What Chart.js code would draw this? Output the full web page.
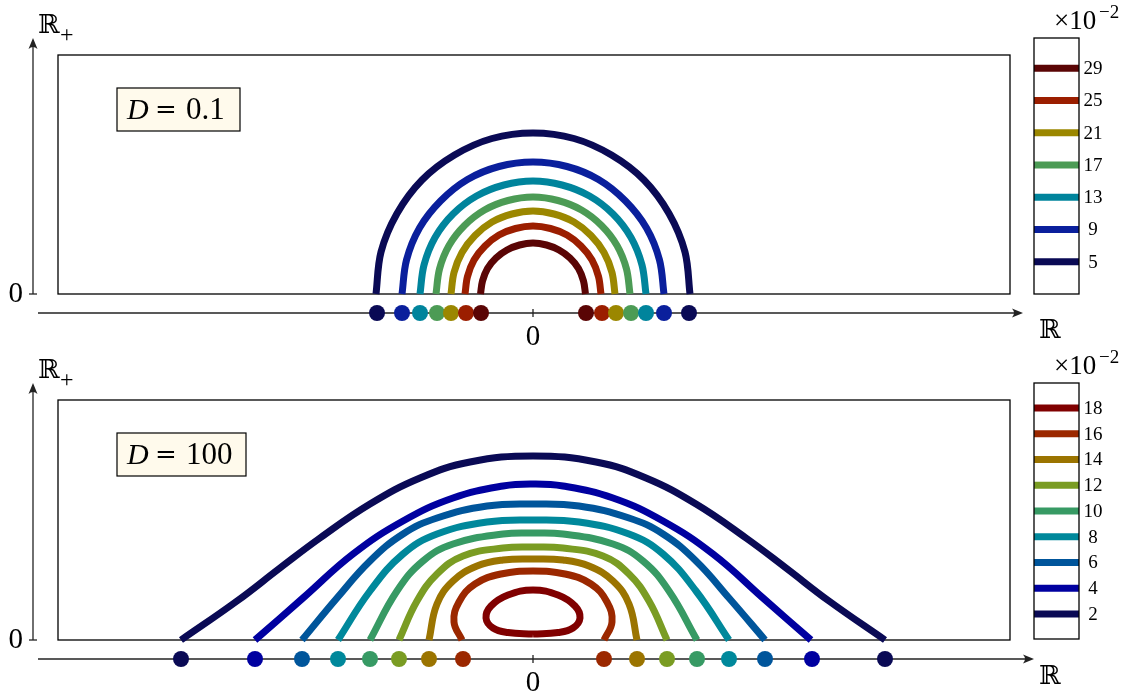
<!DOCTYPE html>
<html>
<head>
<meta charset="utf-8">
<script src="https://cdn.jsdelivr.net/npm/chart.js@4.4.1/dist/chart.umd.min.js"></script>
<style>
  body { margin: 0; background: #fff; }
  #wrap { position: relative; width: 1136px; height: 693px; }
  canvas { position: absolute; left: 0; top: 0; }
</style>
</head>
<body>
<div id="wrap">
  <canvas id="topMain" width="1136" height="693"></canvas>
  <canvas id="topBar" width="1136" height="693"></canvas>
  <canvas id="botMain" width="1136" height="693"></canvas>
  <canvas id="botBar" width="1136" height="693"></canvas>
</div>
<script>
// ---- D = 0.1 ----
const topLevels = [5, 9, 13, 17, 21, 25, 29];
const topColors = ['#0a0a55', '#0a1f9c', '#00849c', '#4c9b55', '#9b8700', '#9b1e00', '#5a0505'];
const topCurves = [
  [[-1.57, 0], [-1.52, 0.42], [-1.36, 0.805], [-1.11, 1.14], [-0.785, 1.39], [-0.41, 1.555], [0, 1.61], [0.41, 1.555], [0.785, 1.39], [1.11, 1.14], [1.36, 0.805], [1.52, 0.42], [1.57, 0]],
  [[-1.31, 0], [-1.265, 0.34], [-1.135, 0.66], [-0.925, 0.93], [-0.655, 1.145], [-0.34, 1.275], [0, 1.32], [0.34, 1.275], [0.655, 1.145], [0.925, 0.93], [1.135, 0.66], [1.265, 0.34], [1.31, 0]],
  [[-1.13, 0], [-1.09, 0.29], [-0.98, 0.565], [-0.80, 0.80], [-0.565, 0.98], [-0.29, 1.09], [0, 1.13], [0.29, 1.09], [0.565, 0.98], [0.80, 0.80], [0.98, 0.565], [1.09, 0.29], [1.13, 0]],
  [[-0.97, 0], [-0.935, 0.25], [-0.84, 0.485], [-0.685, 0.685], [-0.485, 0.84], [-0.25, 0.935], [0, 0.97], [0.25, 0.935], [0.485, 0.84], [0.685, 0.685], [0.84, 0.485], [0.935, 0.25], [0.97, 0]],
  [[-0.82, 0], [-0.79, 0.215], [-0.71, 0.415], [-0.58, 0.585], [-0.41, 0.72], [-0.21, 0.80], [0, 0.83], [0.21, 0.80], [0.41, 0.72], [0.58, 0.585], [0.71, 0.415], [0.79, 0.215], [0.82, 0]],
  [[-0.68, 0], [-0.655, 0.175], [-0.59, 0.34], [-0.48, 0.48], [-0.34, 0.59], [-0.175, 0.655], [0, 0.68], [0.175, 0.655], [0.34, 0.59], [0.48, 0.48], [0.59, 0.34], [0.655, 0.175], [0.68, 0]],
  [[-0.525, 0], [-0.505, 0.13], [-0.455, 0.255], [-0.37, 0.36], [-0.26, 0.44], [-0.135, 0.49], [0, 0.51], [0.135, 0.49], [0.26, 0.44], [0.37, 0.36], [0.455, 0.255], [0.505, 0.13], [0.525, 0]]
];
const topDotX = [-1.56, -1.31, -1.13, -0.96, -0.82, -0.67, -0.52, 0.53, 0.69, 0.83, 0.98, 1.13, 1.31, 1.56];
const topDotLevel = [5, 9, 13, 17, 21, 25, 29, 29, 25, 21, 17, 13, 9, 5];

// ---- D = 100 ----
const botLevels = [2, 4, 6, 8, 10, 12, 14, 16, 18];
const botColors = ['#0a0a55', '#0000a0', '#00559b', '#00889b', '#379a64', '#7a9c23', '#9b7400', '#9b2800', '#800000'];
const botCurves = [
  [[-3.52, 0], [-2.96, 0.39], [-2.53, 0.72], [-2.13, 1.02], [-1.63, 1.36], [-1.13, 1.62], [-0.63, 1.78], [0, 1.84], [0.63, 1.78], [1.13, 1.62], [1.63, 1.36], [2.13, 1.02], [2.53, 0.72], [2.96, 0.39], [3.52, 0]],
  [[-2.78, 0], [-2.30, 0.42], [-1.80, 0.86], [-1.30, 1.19], [-0.80, 1.42], [-0.30, 1.54], [0, 1.56], [0.30, 1.54], [0.80, 1.42], [1.30, 1.19], [1.80, 0.86], [2.30, 0.42], [2.78, 0]],
  [[-2.31, 0], [-1.96, 0.42], [-1.63, 0.79], [-1.30, 1.06], [-0.96, 1.22], [-0.46, 1.34], [0, 1.36], [0.46, 1.34], [0.96, 1.22], [1.30, 1.06], [1.63, 0.79], [1.96, 0.42], [2.32, 0]],
  [[-1.95, 0], [-1.63, 0.49], [-1.30, 0.86], [-0.96, 1.06], [-0.46, 1.18], [0, 1.20], [0.46, 1.18], [0.96, 1.06], [1.30, 0.86], [1.63, 0.49], [1.96, 0]],
  [[-1.63, 0], [-1.36, 0.49], [-1.10, 0.79], [-0.80, 0.96], [-0.30, 1.06], [0, 1.07], [0.30, 1.06], [0.80, 0.96], [1.10, 0.79], [1.36, 0.49], [1.64, 0]],
  [[-1.34, 0], [-1.16, 0.39], [-0.96, 0.66], [-0.70, 0.84], [-0.30, 0.92], [0, 0.93], [0.30, 0.92], [0.70, 0.84], [0.96, 0.66], [1.16, 0.39], [1.34, 0]],
  [[-1.04, 0], [-0.96, 0.36], [-0.80, 0.59], [-0.56, 0.74], [-0.30, 0.80], [0, 0.81], [0.30, 0.80], [0.56, 0.74], [0.80, 0.59], [0.96, 0.36], [1.04, 0]],
  [[-0.71, 0], [-0.79, 0.18], [-0.74, 0.38], [-0.58, 0.56], [-0.32, 0.66], [0, 0.69], [0.32, 0.66], [0.58, 0.56], [0.74, 0.38], [0.79, 0.18], [0.71, 0]],
  [[0, 0.06], [-0.25, 0.075], [-0.40, 0.12], [-0.47, 0.22], [-0.42, 0.34], [-0.25, 0.45], [0, 0.50], [0.25, 0.45], [0.42, 0.34], [0.47, 0.22], [0.40, 0.12], [0.25, 0.075], [0, 0.06]]
];
const botDotX = [-3.52, -2.78, -2.31, -1.95, -1.63, -1.34, -1.04, -0.70, 0.71, 1.04, 1.34, 1.64, 1.96, 2.32, 2.79, 3.52];
const botDotLevel = [2, 4, 6, 8, 10, 12, 14, 16, 16, 14, 12, 10, 8, 6, 4, 2];

const AXIS_Y = -0.19;
const SERIF = '"Liberation Serif", "DejaVu Serif", serif';
const BB = '"DejaVu Serif", "DejaVu Sans", serif';

function arrow(ctx, x0, y0, x1, y1) {
  const a = Math.atan2(y1 - y0, x1 - x0);
  ctx.beginPath();
  ctx.moveTo(x0, y0);
  ctx.lineTo(x1 - 6 * Math.cos(a), y1 - 6 * Math.sin(a));
  ctx.stroke();
  ctx.save();
  ctx.translate(x1, y1);
  ctx.rotate(a);
  ctx.beginPath();
  ctx.moveTo(0, 0);
  ctx.lineTo(-11, -4.5);
  ctx.quadraticCurveTo(-7, 0, -11, 4.5);
  ctx.closePath();
  ctx.fill();
  ctx.restore();
}

function panelDecor(cfg) {
  return {
    id: 'decor',
    beforeDatasetsDraw(chart) {
      const { ctx, chartArea: a, scales: { x, y } } = chart;
      const y0 = y.getPixelForValue(0);
      const yAx = y.getPixelForValue(AXIS_Y);
      const x0 = x.getPixelForValue(0);
      ctx.save();
      ctx.strokeStyle = '#000';
      ctx.lineWidth = 1.3;
      ctx.strokeRect(a.left, a.top, a.right - a.left, y0 - a.top);

      ctx.strokeStyle = '#222';
      ctx.fillStyle = '#222';
      ctx.lineWidth = 1.3;
      arrow(ctx, 38, yAx, cfg.tipX, yAx);
      ctx.beginPath();
      ctx.moveTo(x0, yAx - 4);
      ctx.lineTo(x0, yAx + 4);
      ctx.stroke();
      arrow(ctx, 33, y0, 33, a.top - 17);
      ctx.beginPath();
      ctx.moveTo(29, y0);
      ctx.lineTo(37, y0);
      ctx.stroke();

      ctx.fillStyle = '#000';
      ctx.font = '29px ' + SERIF;
      ctx.textBaseline = 'middle';
      ctx.textAlign = 'right';
      ctx.fillText('0', 23, y0);
      ctx.textBaseline = 'alphabetic';
      ctx.textAlign = 'center';
      ctx.fillText('0', x0, yAx + 32);

      ctx.textAlign = 'left';
      ctx.font = '26px ' + BB;
      ctx.fillText('\u211D', 38, a.top - 22);
      ctx.fillText('\u211D', 1039, yAx + 25);
      ctx.font = '24px ' + SERIF;
      ctx.fillText('+', 60, a.top - 13);

      // D label
      const bx = 117, by = a.top + 33;
      ctx.fillStyle = '#fffaec';
      ctx.fillRect(bx, by, cfg.boxW, 43);
      ctx.strokeStyle = '#000';
      ctx.lineWidth = 1.2;
      ctx.strokeRect(bx, by, cfg.boxW, 43);
      ctx.fillStyle = '#000';
      ctx.font = 'italic 30px ' + SERIF;
      ctx.fillText('D', 127, by + 31);
      ctx.font = '26px ' + BB;
      ctx.fillText('=', 155, by + 30);
      ctx.font = '31px ' + SERIF;
      ctx.fillText(cfg.value, 186, by + 31);
      ctx.restore();
    }
  };
}

const barDecor = {
  id: 'barDecor',
  afterDatasetsDraw(chart) {
    const { ctx, chartArea: a, scales: { y } } = chart;
    ctx.save();
    ctx.strokeStyle = '#000';
    ctx.lineWidth = 1.3;
    ctx.strokeRect(a.left, a.top, a.right - a.left, a.bottom - a.top);
    ctx.fillStyle = '#000';
    ctx.font = '19px ' + SERIF;
    ctx.textAlign = 'center';
    ctx.textBaseline = 'middle';
    chart.data.datasets.forEach(ds => {
      ctx.fillText(String(ds.label), a.right + 14, y.getPixelForValue(ds.data[0].y) + 1);
    });
    ctx.textAlign = 'left';
    ctx.textBaseline = 'alphabetic';
    ctx.font = '27px ' + SERIF;
    ctx.fillText('\u00D710', 1054, a.top - 9);
    ctx.font = '19px ' + SERIF;
    ctx.fillText('\u22122', 1099, a.top - 20);
    ctx.restore();
  }
};

function colorOf(levels, colors, lvl) {
  return colors[levels.indexOf(lvl)];
}

function makeMain(id, levels, colors, curves, dotX, dotLevel, pad, yMax, tension, cfg) {
  const datasets = curves.map((c, i) => ({
    data: c.map(p => ({ x: p[0], y: p[1] })),
    borderColor: colors[i],
    borderWidth: 7,
    pointRadius: 0,
    tension: tension,
    fill: false
  }));
  datasets.push({
    data: dotX.map(v => ({ x: v, y: AXIS_Y })),
    showLine: false,
    pointRadius: 8,
    pointBorderWidth: 0,
    pointBackgroundColor: dotLevel.map(l => colorOf(levels, colors, l)),
    pointBorderColor: dotLevel.map(l => colorOf(levels, colors, l))
  });
  new Chart(document.getElementById(id), {
    type: 'line',
    data: { datasets },
    options: {
      responsive: false,
      animation: false,
      layout: { padding: pad },
      plugins: { legend: { display: false }, tooltip: { enabled: false } },
      scales: {
        x: { type: 'linear', display: false, min: -4.75, max: 4.77 },
        y: { type: 'linear', display: false, min: -0.30, max: yMax }
      }
    },
    plugins: [panelDecor(cfg)]
  });
}

function makeBar(id, levels, colors, pad, yMin, yMax) {
  new Chart(document.getElementById(id), {
    type: 'line',
    data: {
      datasets: levels.map((l, i) => ({
        label: l,
        data: [{ x: 0, y: l }, { x: 1, y: l }],
        borderColor: colors[i],
        borderWidth: 7,
        pointRadius: 0
      }))
    },
    options: {
      responsive: false,
      animation: false,
      layout: { padding: pad },
      plugins: { legend: { display: false }, tooltip: { enabled: false } },
      scales: {
        x: { type: 'linear', display: false, min: 0, max: 1 },
        y: { type: 'linear', display: false, min: yMin, max: yMax }
      }
    },
    plugins: [barDecor]
  });
}

makeMain('topMain', topLevels, topColors, topCurves, topDotX, topDotLevel,
  { left: 58, right: 126, top: 55, bottom: 369 }, 2.39, 0.34, { tipX: 1023, boxW: 123, value: '0.1' });
makeMain('botMain', botLevels, botColors, botCurves, botDotX, botDotLevel,
  { left: 58, right: 126, top: 400, bottom: 23 }, 2.40, 0.42, { tipX: 1034, boxW: 129, value: '100' });
makeBar('topBar', topLevels, topColors, { left: 1034, right: 57, top: 38, bottom: 399 }, 1.0, 32.75);
makeBar('botBar', botLevels, botColors, { left: 1034, right: 57, top: 383, bottom: 54 }, 0.06, 19.94);
</script>
</body>
</html>
